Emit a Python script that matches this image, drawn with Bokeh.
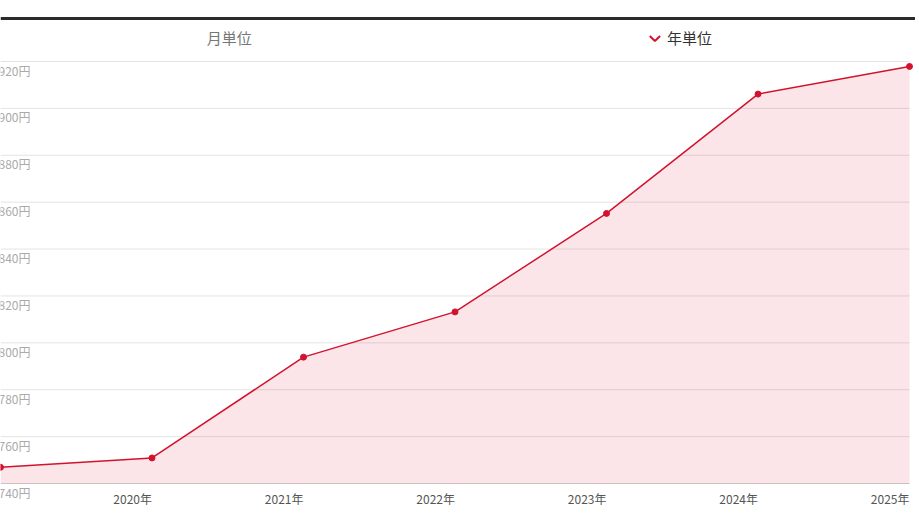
import numpy as np
from bokeh.core.properties import value
from bokeh.embed import file_html
from bokeh.models import Span
from bokeh.plotting import figure
from bokeh.resources import INLINE

# 年単位の推移 (先頭は画面外の 2019年)
years = ["2019年", "2020年", "2021年", "2022年", "2023年", "2024年", "2025年"]
prices = [746.9, 750.9, 793.9, 813.2, 855.2, 906.1, 917.9]
y_ticks = [740, 760, 780, 800, 820, 840, 860, 880, 900, 920]
y_labels = [f"{t}円" for t in y_ticks]
tabs = ["月単位", "年単位"]

FONT = value("Noto Sans CJK JP")
RED = "#d2132e"
W, H = 915, 515

xs = np.arange(len(years))
x_end = xs[-1] * W / 909
px = (y_ticks[-1] - y_ticks[0]) / 422          # 1px あたりの値
y_top = y_ticks[-1] + 61 * px
y_bot = y_ticks[0] - (H - 483) * px

p = figure(width=W, height=H, x_range=(0, x_end), y_range=(y_bot, y_top),
           output_backend="svg", toolbar_location=None, min_border=0,
           background_fill_color="white", border_fill_color="white")
p.axis.visible = False
p.grid.visible = False
p.outline_line_color = None
p.styles = {"position": "absolute", "left": "0px", "top": "0px"}

# 面と線
p.varea(x=xs, y1=y_ticks[0], y2=prices, fill_color="#fbe5e8")
p.segment(x0=0, x1=xs[-1], y0=y_ticks[1:], y1=y_ticks[1:], line_color="black",
          line_alpha=0.11, line_width=1)
p.segment(x0=0, x1=xs[-1], y0=y_ticks[0], y1=y_ticks[0], line_color="#c9c3c5", line_width=1.2)
p.line(xs, prices, line_color=RED, line_width=1.5)
p.scatter(xs, prices, size=6, fill_color=RED, line_color=RED)

# 軸ラベル
p.text(x=0, y=y_ticks, text=y_labels, x_offset=-2, y_offset=0, text_baseline="top",
       text_align="left", text_font=FONT, text_font_size="12px", text_color="#aaaaaa")
p.text(x=xs[1:], y=y_ticks[0], text=years[1:], y_offset=15, text_baseline="middle",
       text_align="right", text_font=FONT, text_font_size="12px", text_color="#555555")

# タブ
p.add_layout(Span(location=y_ticks[-1] + 43 * px, dimension="width", line_color="#2b2b2b",
                  line_width=3))
tab_y = y_ticks[-1] + 24 * px
p.text(x=x_end * 0.25, y=tab_y, text=[tabs[0]], text_align="center", text_baseline="middle",
       text_font=FONT, text_font_size="15px", text_color="#777777")
p.text(x=x_end * 0.75 - 0.13, y=tab_y, text=[tabs[1]], text_align="left", text_baseline="middle",
       text_font=FONT, text_font_size="15px", text_color="#333333")
cx = x_end * 0.75 - 0.21
p.line([cx - 0.034, cx, cx + 0.034], [tab_y + 1.5 * px, tab_y - 3.5 * px, tab_y + 1.5 * px],
       line_color=RED, line_width=2)

open("out.html", "w").write(file_html(p, INLINE))
